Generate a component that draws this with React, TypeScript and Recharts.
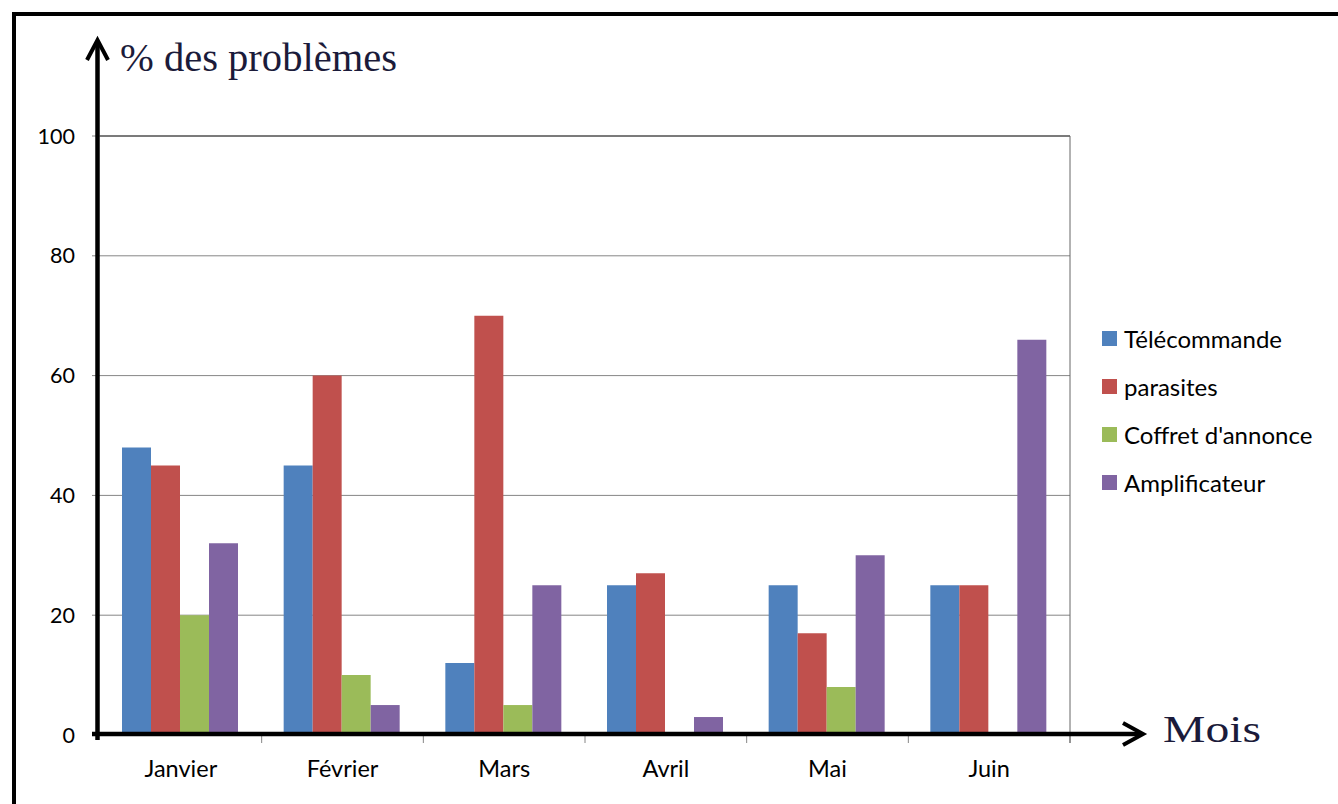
import React from 'react';
import { BarChart, Bar, XAxis, YAxis, CartesianGrid } from 'recharts';

const months = ['Janvier', 'Février', 'Mars', 'Avril', 'Mai', 'Juin'];
const telecommande = [48, 45, 12, 25, 25, 25];
const parasites = [45, 60, 70, 27, 17, 25];
const coffret = [20, 10, 5, 0, 8, 0];
const amplificateur = [32, 5, 25, 3, 30, 66];
const yTicks = [0, 20, 40, 60, 80, 100];
const seriesNames = ['Télécommande', 'parasites', "Coffret d'annonce", 'Amplificateur'];
const seriesColors = ['#4F81BD', '#C0504D', '#9BBB59', '#8064A2'];
const yTitle = '% des problèmes';
const xTitle = 'Mois';

const data = months.map((m, i) => ({
  month: m,
  t: telecommande[i],
  p: parasites[i],
  c: coffret[i],
  a: amplificateur[i],
}));

const W = 1338;
const H = 804;
const PLOT_L = 100;
const PLOT_R = 1070;
const PLOT_T = 136;
const PLOT_B = 735;
const BAND = (PLOT_R - PLOT_L) / months.length;
const SANS = 'Lato, "Open Sans", sans-serif';
const SERIF = '"Liberation Serif", "DejaVu Serif", serif';

const XTick = (props: any) => {
  const { x, y, payload } = props;
  const bx = x + BAND / 2;
  return (
    <g>
      <line x1={bx} x2={bx} y1={y} y2={y + 8} stroke="#868686" strokeWidth={1} />
      <text x={x} y={y + 42} textAnchor="middle" fontFamily={SANS} fontSize={23.5} fill="#000">
        {payload.value}
      </text>
    </g>
  );
};

export default function App() {
  const keys = ['t', 'p', 'c', 'a'];
  return (
    <div style={{ position: 'absolute', left: 0, top: 0, width: W, height: H, background: '#fff' }}>
      <BarChart
        width={W}
        height={H}
        data={data}
        margin={{ top: PLOT_T, right: W - PLOT_R, bottom: 24, left: 0 }}
        barCategoryGap={22}
        barGap={0}
      >
        <CartesianGrid horizontal vertical={false} stroke="#868686" strokeWidth={1} />
        <XAxis
          dataKey="month"
          height={H - PLOT_B - 24}
          axisLine={false}
          tickLine={false}
          tickSize={0}
          tickMargin={0}
          tick={<XTick />}
          interval={0}
        />
        <YAxis
          domain={[0, 100]}
          ticks={yTicks}
          width={PLOT_L}
          axisLine={false}
          tickSize={8}
          tickMargin={17}
          tickLine={{ stroke: '#868686' }}
          tick={{ fontFamily: SANS, fontSize: 21.5, fill: '#000' }}
          interval={0}
        />
        {keys.map((k, i) => (
          <Bar key={k} dataKey={k} name={seriesNames[i]} fill={seriesColors[i]} isAnimationActive={false} />
        ))}
      </BarChart>
      <div
        style={{
          position: 'absolute',
          left: 1102,
          top: 314,
          fontFamily: SANS,
          fontSize: 24,
          color: '#000',
          whiteSpace: 'nowrap',
        }}
      >
        {seriesNames.map((n, i) => (
          <div key={n} style={{ height: 48, display: 'flex', alignItems: 'center' }}>
            <span
              style={{ width: 15, height: 15, background: seriesColors[i], display: 'inline-block', marginRight: 7 }}
            />
            <span>{n}</span>
          </div>
        ))}
      </div>
      <svg width={W} height={H} style={{ position: 'absolute', left: 0, top: 0, pointerEvents: 'none' }}>
        <rect x={14} y={14} width={1340} height={800} fill="none" stroke="#000" strokeWidth={4} />
        <line x1={PLOT_L} x2={PLOT_R} y1={PLOT_T} y2={PLOT_T} stroke="#333" strokeWidth={1} />
        <line x1={PLOT_R} x2={PLOT_R} y1={PLOT_T} y2={PLOT_B + 8} stroke="#666" strokeWidth={1} />
        <line x1={97.5} x2={97.5} y1={41} y2={740} stroke="#000" strokeWidth={4.5} />
        <polyline points="87,60 97.5,40 108,60" fill="none" stroke="#000" strokeWidth={4} />
        <line x1={92} x2={1141} y1={734} y2={734} stroke="#000" strokeWidth={4.5} />
        <polyline points="1123,723 1143,734 1123,745" fill="none" stroke="#000" strokeWidth={4} />
        <text
          x={120}
          y={71}
          fontFamily={SERIF}
          fontSize={39}
          fill="#1b1b3a"
          textLength={277}
          lengthAdjust="spacingAndGlyphs"
        >
          {yTitle}
        </text>
        <text
          x={1163}
          y={742}
          fontFamily={SERIF}
          fontSize={37}
          fill="#1b1b3a"
          textLength={98}
          lengthAdjust="spacingAndGlyphs"
        >
          {xTitle}
        </text>
      </svg>
    </div>
  );
}
